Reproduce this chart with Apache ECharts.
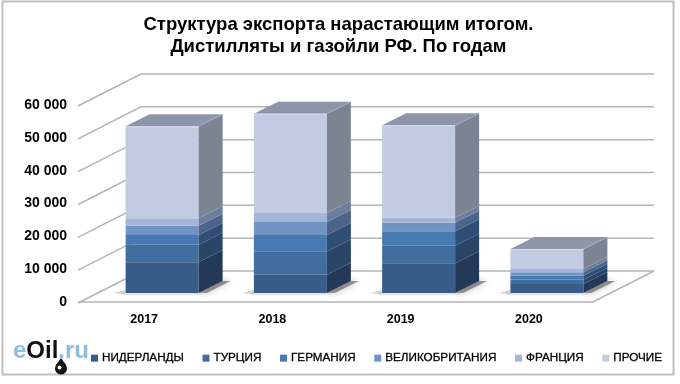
<!DOCTYPE html>
<html><head><meta charset="utf-8">
<script src="https://cdn.jsdelivr.net/npm/echarts@6/dist/echarts.min.js"></script>
<style>html,body{margin:0;padding:0;background:#fff}#c{width:680px;height:384px}</style>
</head><body><div id="c"></div>
<script>
const years = ['2017','2018','2019','2020'];
const tickValues = [0,10000,20000,30000,40000,50000,60000];
const names = ['НИДЕРЛАНДЫ','ТУРЦИЯ','ГЕРМАНИЯ','ВЕЛИКОБРИТАНИЯ','ФРАНЦИЯ','ПРОЧИЕ'];
const niderlandy = [9340,5580,9040,2740];
const turciya = [5380,7110,5380,1320];
const germaniya = [2940,4970,4370,1220];
const britaniya = [2840,3960,2640,1015];
const franciya = [2230,2740,1520,1015];
const prochie = [28020,30250,28120,6100];
const layers = [niderlandy,turciya,germaniya,britaniya,franciya,prochie];
const frontColors = ['#375C88','#426E9F','#487AB2','#7294C4','#A3B6D8','#C1CCE2'];
const sideColors = ['#243858','#2A4666','#2E4E76','#4B6488','#6B7E9E','#7C8494'];
const topColor = '#8D96A8';
const FONT = '"Liberation Sans", Arial, sans-serif';
const FLOOR = [61,-31], BAR_OFF = [18,-9], BAR_W = 73, BAR_D = [24,-12];

function poly(points, fill, extra){
  return Object.assign({type:'polygon',shape:{points},style:{fill}},extra||{});
}
const gridSeries = {
  type:'custom', silent:true, z:1, clip:false,
  data: tickValues.map(v=>[0,v]), encode:{x:0,y:1},
  renderItem(params,api){
    const y = api.coord([0,api.value(1)])[1];
    const cs = params.coordSys;
    const x0 = cs.x, x1 = cs.x+cs.width;
    const st = {stroke:'#b4b4b4',lineWidth:1.5,fill:null};
    const kids = [{type:'polyline',shape:{points:[[x0-2,y+1],[x0+FLOOR[0],y+FLOOR[1]],[x1+FLOOR[0],y+FLOOR[1]]]},style:st}];
    if(api.value(1)===0){
      kids.push({type:'polyline',shape:{points:[[x0-2,y],[x1,y],[x1+FLOOR[0],y+FLOOR[1]]]},style:st});
    }
    return {type:'group',children:kids};
  }
};
const shadowSeries = {
  type:'custom', silent:true, z:2, clip:false,
  data: years.map((_,i)=>[i,0]), encode:{x:0,y:1},
  renderItem(params,api){
    const p = api.coord([api.value(0),0]);
    const l = p[0]+BAR_OFF[0]-BAR_W/2, r = l+BAR_W, y = p[1]+BAR_OFF[1];
    return {type:'group',children:[
      {type:'polygon',shape:{points:[[r,y],[r+BAR_D[0],y+BAR_D[1]],[r+32,y+BAR_D[1]],[r+8,y]]},
       style:{fill:'rgba(70,70,70,0.55)',shadowBlur:6,shadowColor:'rgba(0,0,0,0.55)'}},
      poly([[l-12,y],[l,y-3],[l,y+1]],'rgba(120,120,120,0.35)'),
      {type:'line',shape:{x1:l-4,y1:y+1,x2:r+4,y2:y+1},style:{stroke:'rgba(170,170,170,0.6)',lineWidth:1}}
    ]};
  }
};
const layerSeries = names.map((name,k)=>({
  type:'custom', name, clip:false, z:3+k, silent:true,
  itemStyle:{color:frontColors[k]},
  data: years.map((_,i)=>{
    let s=0; for(let j=0;j<k;j++) s+=layers[j][i];
    return [i,s,s+layers[k][i]];
  }),
  encode:{x:0,y:[1,2]},
  renderItem(params,api){
    const i = api.value(0);
    const a = api.coord([i,api.value(1)]), b = api.coord([i,api.value(2)]);
    const l = a[0]+BAR_OFF[0]-BAR_W/2, r = l+BAR_W, y0 = a[1]+BAR_OFF[1], y1 = b[1]+BAR_OFF[1];
    const dx = BAR_D[0], dy = BAR_D[1];
    const kids = [
      poly([[l,y0],[r,y0],[r,y1],[l,y1]],frontColors[k]),
      poly([[r,y0],[r+dx,y0+dy],[r+dx,y1+dy],[r,y1]],sideColors[k])
    ];
    if(k===names.length-1){
      kids.push(poly([[l,y1],[r,y1],[r+dx,y1+dy],[l+dx,y1+dy]],topColor));
      kids.push({type:'line',shape:{x1:l,y1:y1+0.5,x2:r,y2:y1+0.5},style:{stroke:'#D5DCEC',lineWidth:1}});
      kids.push({type:'line',shape:{x1:r,y1:y1,x2:r+dx,y2:y1+dy},style:{stroke:'#A5AEC2',lineWidth:1}});
    }
    return {type:'group',children:kids};
  }
}));

const chart = echarts.init(document.getElementById('c'),null,{renderer:'canvas'});
chart.setOption({
  animation:false,
  backgroundColor:'#fff',
  textStyle:{fontFamily:FONT},
  title:{
    text:'Структура экспорта нарастающим итогом.\nДистилляты и газойли РФ. По годам',
    left:333.5, top:9, textAlign:'center',
    textStyle:{fontFamily:FONT,fontWeight:'bold',fontSize:18.5,lineHeight:22,color:'#000'}
  },
  legend:{
    data:names, left:86, top:347, icon:'rect', itemWidth:7, itemHeight:7, itemGap:18.5,
    selectedMode:false,
    textStyle:{fontFamily:FONT,fontSize:11.7,color:'#000',padding:[0,0,0,-1],textBorderColor:'#000',textBorderWidth:0.3}
  },
  grid:{left:80,right:87,top:105,bottom:82},
  xAxis:{type:'category',data:years,
    axisLine:{show:false},axisTick:{show:false},
    axisLabel:{fontFamily:FONT,fontWeight:'bold',fontSize:12.5,color:'#000',margin:11}},
  yAxis:{type:'value',min:0,max:60000,interval:10000,
    axisLine:{show:false},axisTick:{show:false},splitLine:{show:false},
    axisLabel:{fontFamily:FONT,fontWeight:'bold',fontSize:14,color:'#000',margin:13,
      formatter:v=>String(v).replace(/\B(?=(\d{3})+$)/g,' ')}},
  series:[gridSeries,shadowSeries].concat(layerSeries),
  graphic:[
    {type:'rect',silent:true,z:0,shape:{x:2.5,y:1.5,width:671,height:373},style:{fill:'none',stroke:'#c0c0c0',lineWidth:2}},
    {type:'text',silent:true,z:20,left:13,top:339,style:{
      text:'{a|e}{b|Oil}{a|.ru}',
      rich:{a:{fontFamily:FONT,fontSize:24,fontWeight:'bold',fill:'#8FBDE0'},b:{fontFamily:FONT,fontSize:24,fontWeight:'bold',fill:'#111'}}
    }},
    {type:'circle',silent:true,z:20,shape:{cx:61,cy:368.5,r:6},style:{fill:'#111'}},
    {type:'polygon',silent:true,z:20,shape:{points:[[61,358],[56,365],[66,365]]},style:{fill:'#111'}},
    {type:'circle',silent:true,z:21,shape:{cx:59.5,cy:367.5,r:2},style:{fill:'#fff'}}
  ]
});
</script></body></html>
